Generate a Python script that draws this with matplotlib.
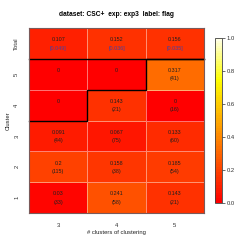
import matplotlib.pyplot as plt
import numpy as np
from matplotlib.colors import LinearSegmentedColormap

plt.rcParams['font.family'] = ['Liberation Sans', 'DejaVu Sans']

# data
n_clusters = [3, 4, 5]
row_labels = ['1', '2', '3', '4', '5', 'Total']
values = [[0.03, 0.241, 0.143],
          [0.2, 0.158, 0.185],
          [0.091, 0.067, 0.133],
          [0, 0.143, 0],
          [0, 0, 0.317]]
counts = [[33, 58, 21],
          [115, 38, 54],
          [44, 75, 60],
          [None, 21, 16],
          [None, None, 41]]
total_mean = [0.107, 0.152, 0.156]
total_sd = [0.049, 0.036, 0.035]

# R style heat.colors
heat = LinearSegmentedColormap.from_list(
    'heat', [(0.0, (1, 0, 0)), (0.75, (1, 1, 0)), (1.0, (1, 1, 0.9))], N=64)

grid = np.vstack([np.array(values, dtype=float), np.array(total_mean)])

fig = plt.figure(figsize=(2.49, 2.49), dpi=100)
ax = fig.add_axes([29/249, 1-213/249, 175/249, 185/249])
cax = fig.add_axes([215/249, 1-203/249, 7/249, 165/249])

mesh = ax.pcolormesh(np.arange(len(n_clusters)+1), np.arange(len(row_labels)+1), grid,
                     cmap=heat, vmin=0, vmax=1, edgecolors=(1, 1, 1, 0.45), linewidth=0.6)

fs = 3.9
# cell texts
for i in range(len(values)):
    for j in range(len(n_clusters)):
        ax.text(j+0.5, i+0.62, f'{values[i][j]:g}', ha='center', va='center', fontsize=fs, color='#202020')
        if counts[i][j] is not None:
            ax.text(j+0.5, i+0.35, f'({counts[i][j]})', ha='center', va='center', fontsize=fs, color='#202020')
top = len(values)
for j in range(len(n_clusters)):
    ax.text(j+0.5, top+0.62, f'{total_mean[j]:g}', ha='center', va='center', fontsize=fs, color='#202020')
    ax.text(j+0.5, top+0.35, f'[{total_sd[j]:.3f}]', ha='center', va='center', fontsize=fs, color='#4b3f9e')

# staircase marking which clusters exist for each clustering
sx, sy = [], []
for j, k in enumerate(n_clusters):
    sx += [j, j+1]
    sy += [k, k]
ax.plot(sx, sy, color='black', lw=1.0, solid_joinstyle='miter', clip_on=False)
ax.plot([0, len(n_clusters)], [top, top], color='black', lw=1.0, clip_on=False)

ax.set_xlim(0, len(n_clusters))
ax.set_ylim(0, len(row_labels))
ax.set_xticks(np.arange(len(n_clusters))+0.5)
ax.set_xticklabels([str(k) for k in n_clusters])
ax.set_yticks(np.arange(len(row_labels))+0.5)
ax.set_yticklabels(row_labels, rotation=90, va='center')
ax.tick_params(length=0, labelsize=4.2, pad=7, colors='#303030')
ax.set_xlabel('# clusters of clustering', fontsize=4.2, labelpad=1.5, color='#202020')
ax.set_ylabel('Cluster', fontsize=4.2, labelpad=2.5, color='#202020')
for s in ax.spines.values():
    s.set_color('#7a5a5a')
    s.set_linewidth(0.8)

fig.text(116/249, 1-15/249, 'dataset: CSC+  exp: exp3  label: flag', ha='center', va='center',
         fontsize=4.8, fontweight='bold')

cb = fig.colorbar(mesh, cax=cax)
cb.set_ticks([0, 0.2, 0.4, 0.6, 0.8, 1.0])
cb.ax.tick_params(labelsize=4.2, length=2, width=0.5, colors='#303030', pad=1.5)
cb.outline.set_linewidth(0.6)
cb.outline.set_edgecolor('#404040')

plt.savefig('out.png', dpi=100)
